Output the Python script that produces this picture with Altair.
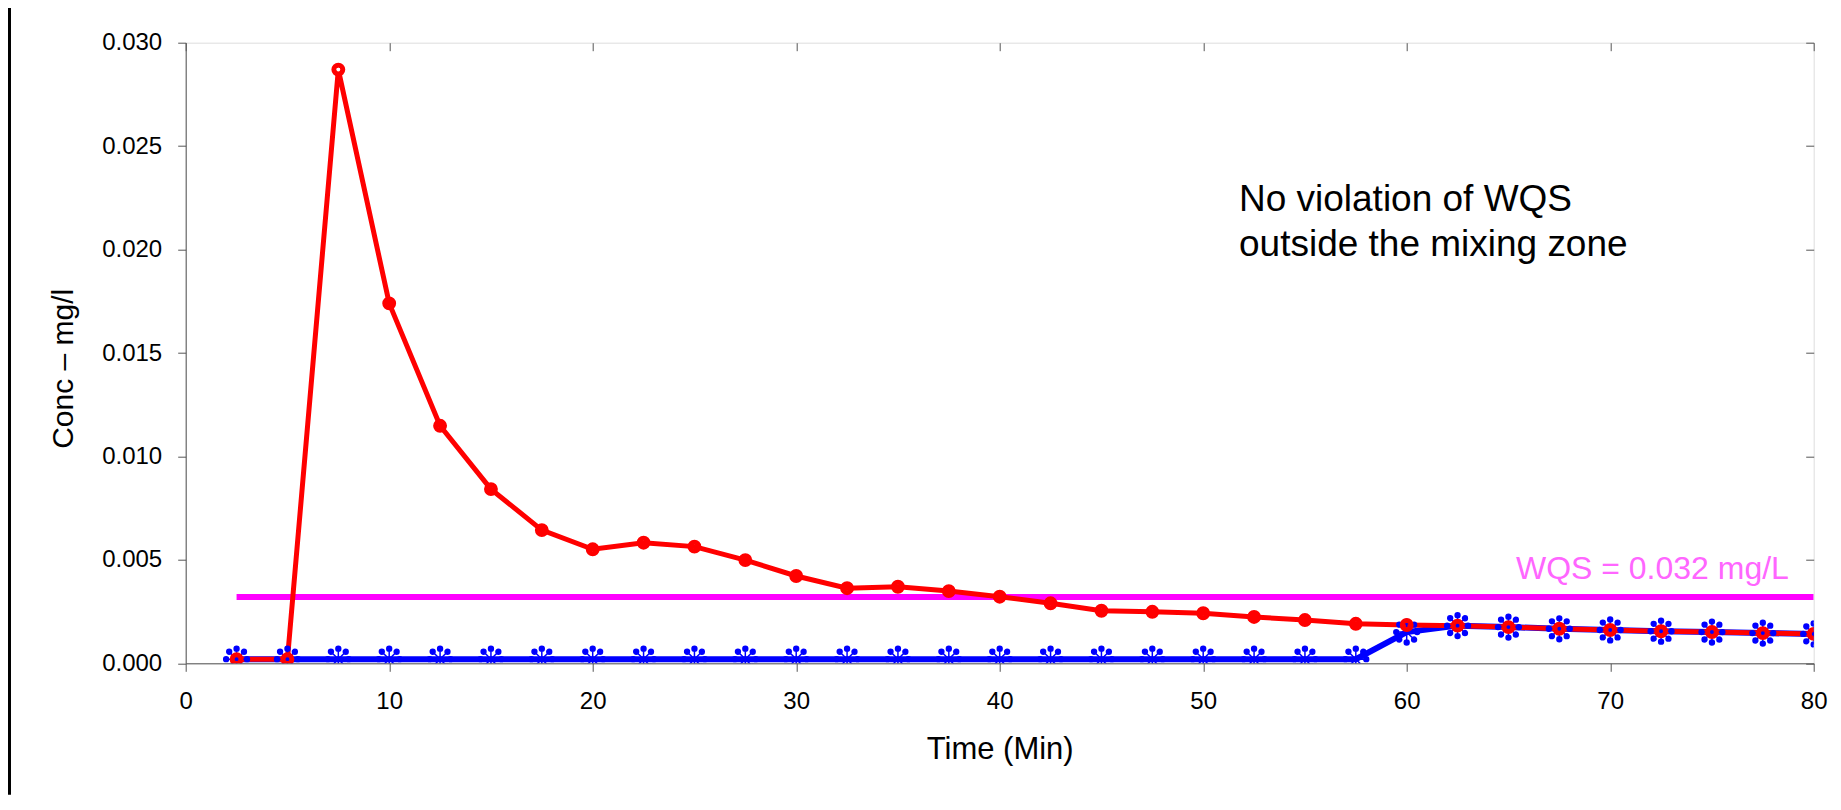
import altair as alt
import pandas as pd

# ---- data ----
time_min = [2.5, 5, 7.5, 10, 12.5, 15, 17.5, 20, 22.5, 25, 27.5, 30, 32.5, 35, 37.5, 40,
            42.5, 45, 47.5, 50, 52.5, 55, 57.5, 60, 62.5, 65, 67.5, 70, 72.5, 75, 77.5, 80]
conc_red = [0.0002, 0.0002, 0.0287, 0.0174, 0.01148, 0.00842, 0.00644, 0.00551,
            0.00583, 0.00564, 0.00499, 0.00422, 0.00363, 0.00370, 0.00349, 0.00322,
            0.00290, 0.00254, 0.00249, 0.00242, 0.00224, 0.00209, 0.00191, 0.00185,
            0.00182, 0.00175, 0.00167, 0.00161, 0.00155, 0.00151, 0.00146, 0.00142]
conc_blue = [0.0002, 0.0002, 0.0002, 0.0002, 0.0002, 0.0002, 0.0002, 0.0002,
             0.0002, 0.0002, 0.0002, 0.0002, 0.0002, 0.0002, 0.0002, 0.0002,
             0.0002, 0.0002, 0.0002, 0.0002, 0.0002, 0.0002, 0.0002, 0.00151,
             0.00182, 0.00175, 0.00167, 0.00161, 0.00155, 0.00151, 0.00146, 0.00142]
wqs_time = [2.5, 80]
wqs_conc = [0.0032, 0.0032]
x_ticks = [0, 10, 20, 30, 40, 50, 60, 70, 80]
y_ticks = [0.0, 0.005, 0.010, 0.015, 0.020, 0.025, 0.030]

note_text = "No violation of WQS\noutside the mixing zone"
wqs_text = "WQS = 0.032 mg/L"

df = pd.DataFrame({"time": time_min, "red": conc_red, "blue": conc_blue})
wqs_df = pd.DataFrame({"time": wqs_time, "conc": wqs_conc})
note_df = pd.DataFrame({"time": [51.76], "conc": [0.02188], "text": [note_text]})
wqs_lbl_df = pd.DataFrame({"time": [65.37], "conc": [0.00406], "text": [wqs_text]})
frame_df = pd.DataFrame({"k": [0]})

FONT = "Liberation Sans"
AX = "#555555"
RED = "#FF0000"
BLUE = "#0000FF"
MAG = "#FF00FF"

x_scale = alt.Scale(domain=[0, 80], nice=False, zero=False)
y_scale = alt.Scale(domain=[0, 0.03], nice=False, zero=False)

x_axis_main = alt.Axis(values=x_ticks, title="Time (Min)", grid=False, domain=True,
                       domainColor=AX, domainWidth=1, ticks=True, tickColor=AX,
                       tickWidth=1, tickSize=8, labelFont=FONT, labelFontSize=24,
                       labelColor="#000000", labelPadding=18, labelFlush=False,
                       labelOverlap=False, titleFont=FONT, titleFontSize=31,
                       titleFontWeight="normal", titleColor="#000000",
                       titleBaseline="alphabetic", titleY=95)
x_axis_inner = alt.Axis(values=x_ticks, title="", grid=False, domain=False, labels=False,
                        ticks=True, tickColor=AX, tickWidth=1, tickSize=8, offset=-8)
y_axis_main = alt.Axis(values=y_ticks, format=".3f", title="Conc \u2013 mg/l", grid=False,
                       domain=True, domainColor=AX, domainWidth=1, ticks=True,
                       tickColor=AX, tickWidth=1, tickSize=8, labelFont=FONT,
                       labelFontSize=24, labelColor="#000000", labelPadding=16,
                       labelFlush=False, labelOverlap=False, labelBaseline="middle",
                       titleFont=FONT, titleFontSize=30, titleFontWeight="normal",
                       titleColor="#000000", titleAngle=270, titleBaseline="alphabetic",
                       titleAlign="center", titleX=-113, titleY=325.6)
y_axis_inner = alt.Axis(values=y_ticks, title="", grid=False, domain=False, labels=False,
                        ticks=True, tickColor=AX, tickWidth=1, tickSize=8, offset=-8)


def X(field, axis=None):
    return alt.X(field, type="quantitative", scale=x_scale, axis=axis)


def Y(field, axis=None):
    return alt.Y(field, type="quantitative", scale=y_scale, axis=axis)


# asterisk marker with round dots at the tips
tips = [(0, -0.82), (0.58, -0.58), (0.82, 0), (0.58, 0.58), (0, 0.82),
        (-0.58, 0.58), (-0.82, 0), (-0.58, -0.58)]
star_path = "M0,-0.82L0,0.82M-0.82,0L0.82,0M-0.58,-0.58L0.58,0.58M-0.58,0.58L0.58,-0.58"
r = 0.19
for cx, cy in tips:
    star_path += f"M{cx - r:.3f},{cy:.3f}a{r},{r} 0 1,0 {2 * r},0a{r},{r} 0 1,0 {-2 * r},0"
star_path += "M-0.16,0a0.16,0.16 0 1,0 0.32,0a0.16,0.16 0 1,0 -0.32,0"

wqs_line = alt.Chart(wqs_df).mark_line(color=MAG, strokeWidth=6, clip=True).encode(
    x=X("time"), y=Y("conc"))

blue_line = alt.Chart(df).mark_line(color=BLUE, strokeWidth=6, clip=True).encode(
    x=X("time", x_axis_main), y=Y("blue", y_axis_main))

red_line = alt.Chart(df).mark_line(color=RED, strokeWidth=5, clip=True).encode(
    x=X("time", x_axis_inner), y=Y("red", y_axis_inner))

blue_pts = alt.Chart(df).mark_point(shape=star_path, filled=True, fill=BLUE, stroke=BLUE,
                                    strokeWidth=1.5, size=650, opacity=1, clip=True).encode(
    x=X("time"), y=Y("blue"))

red_pts = alt.Chart(df).mark_point(shape="circle", filled=False, stroke=RED, strokeWidth=5,
                                   size=79, opacity=1, clip=True).encode(
    x=X("time"), y=Y("red"))

peak_dot = alt.Chart(df).transform_joinaggregate(maxred="max(red)").transform_filter(
    "datum.red == datum.maxred").mark_point(shape="circle", filled=True, fill="#FFFFFF",
                                            size=14, opacity=1, strokeWidth=0).encode(
    x=X("time"), y=Y("red"))

note = alt.Chart(note_df).mark_text(align="left", baseline="alphabetic", font=FONT,
                                    fontSize=37, lineBreak="\n", lineHeight=45,
                                    color="#000000").encode(
    x=X("time"), y=Y("conc"), text="text:N")

wqs_label = alt.Chart(wqs_lbl_df).mark_text(align="left", baseline="alphabetic", font=FONT,
                                            fontSize=32, color="#FF66FF").encode(
    x=X("time"), y=Y("conc"), text="text:N")

frame = alt.Chart(frame_df).mark_rule(color="#000000", strokeWidth=3).encode(
    x=alt.value(-176.2), y=alt.value(-34.7), y2=alt.value(752))

chart = alt.layer(wqs_line, blue_line, red_line, blue_pts, red_pts, peak_dot, note,
                  wqs_label, frame).resolve_axis(x="independent", y="independent").properties(
    width=1628, height=620.6,
    padding={"left": 177.7, "top": 34.7, "right": 18, "bottom": 131.7},
    autosize=alt.AutoSizeParams(type="none"),
).configure_view(stroke=None).configure(background="#FFFFFF")

chart.save("out.html", embed_options={"renderer": "svg", "actions": False})
